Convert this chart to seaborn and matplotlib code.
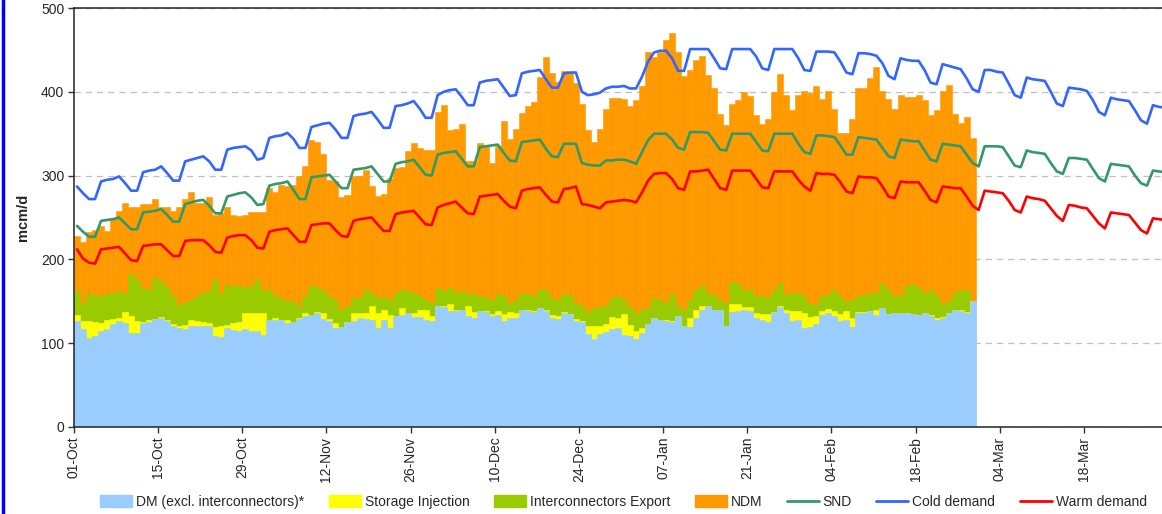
import numpy as np
import pandas as pd
import matplotlib
matplotlib.use("Agg")
import matplotlib.pyplot as plt
from matplotlib.patches import Patch
from matplotlib.lines import Line2D
import seaborn as sns

# x-axis labels, one every 14 days starting 01-Oct
tick_labels = ["01-Oct", "15-Oct", "29-Oct", "12-Nov", "26-Nov", "10-Dec", "24-Dec",
               "07-Jan", "21-Jan", "04-Feb", "18-Feb", "04-Mar", "18-Mar"]

# daily stacked demand (mcm/d), 01-Oct .. 27-Feb
dm = [126, 117, 106, 109, 114, 117, 123, 126, 124, 112, 112, 124, 125, 129, 130, 126, 121, 118, 117, 120,
      120, 120, 121, 109, 107, 118, 116, 115, 117, 114,
      114, 110, 128, 128, 128, 124, 125, 129, 132, 134, 136, 129, 127, 118, 119, 125, 127, 130, 129, 128,
      118, 128, 118, 132, 134, 136, 131, 131, 128, 126,
      144, 143, 139, 139, 140, 132, 130, 138, 137, 132, 134, 127, 130, 130, 140, 139, 137, 142, 138, 130,
      129, 136, 135, 127, 125, 111, 105, 111, 113, 117,
      118, 110, 108, 105, 112, 123, 130, 128, 127, 125, 132, 120, 119, 130, 140, 144, 140, 140, 120, 137,
      138, 140, 139, 130, 128, 125, 137, 143, 136, 127,
      128, 118, 119, 123, 134, 136, 132, 126, 128, 119, 136, 136, 138, 134, 142, 135, 136, 136, 136, 135,
      134, 136, 132, 128, 130, 136, 140, 138, 136, 150]
storage_injection = [8, 9, 20, 16, 10, 11, 6, 4, 13, 21, 14, 1, 3, 0, 1, 2, 2, 2, 5, 8,
                     6, 5, 3, 10, 13, 4, 8, 10, 19, 22,
                     22, 26, 0, 2, 0, 4, 0, 1, 4, 0, 1, 7, 2, 6, 0, 0, 9, 6, 7, 16,
                     18, 12, 16, 0, 8, 0, 5, 9, 12, 6,
                     0, 1, 8, 1, 0, 12, 7, 0, 2, 3, 5, 8, 7, 6, 0, 1, 1, 0, 2, 4,
                     3, 1, 0, 2, 2, 10, 16, 9, 10, 14,
                     12, 25, 14, 9, 6, 0, 0, 0, 1, 1, 0, 0, 11, 10, 4, 0, 0, 0, 0, 10,
                     9, 3, 4, 6, 7, 10, 0, 1, 4, 11,
                     10, 18, 12, 10, 5, 5, 6, 9, 11, 11, 1, 1, 1, 6, 0, 0, 0, 0, 0, 0,
                     0, 0, 2, 2, 1, 0, 0, 2, 1, 0]
interconnectors_export = [28, 22, 33, 32, 32, 31, 31, 32, 23, 50, 50, 41, 36, 49, 43, 39, 33, 26, 27, 23,
                          30, 35, 38, 56, 40, 48, 44, 43, 31, 32,
                          39, 28, 36, 28, 26, 22, 25, 14, 20, 34, 30, 28, 27, 28, 21, 19, 18, 18, 28, 16,
                          18, 15, 18, 28, 22, 26, 24, 16, 12, 16,
                          22, 18, 19, 20, 22, 15, 22, 18, 16, 16, 20, 21, 11, 15, 20, 19, 18, 22, 23, 20,
                          20, 22, 22, 19, 17, 16, 21, 23, 21, 23,
                          25, 16, 21, 22, 22, 19, 24, 24, 20, 33, 12, 20, 22, 24, 24, 16, 18, 12, 28, 26,
                          24, 21, 21, 20, 21, 20, 25, 28, 19, 22,
                          22, 20, 16, 13, 17, 17, 26, 21, 11, 21, 19, 21, 21, 20, 29, 29, 20, 22, 32, 36,
                          32, 24, 29, 26, 16, 14, 20, 24, 25, 0]
ndm = [66, 73, 74, 78, 84, 75, 89, 96, 107, 80, 86, 100, 102, 94, 89, 96, 102, 117, 123, 129,
       111, 107, 112, 78, 95, 93, 85, 84, 86, 88,
       82, 93, 121, 122, 135, 137, 139, 155, 155, 174, 173, 162, 139, 141, 135, 133, 145, 145, 143, 127,
       122, 123, 145, 149, 146, 167, 179, 177, 179, 183,
       210, 222, 189, 196, 200, 159, 158, 183, 182, 164, 176, 209, 196, 205, 215, 224, 232, 254, 278, 269,
       260, 266, 267, 262, 242, 218, 198, 213, 235, 239,
       238, 241, 240, 254, 267, 305, 288, 295, 314, 311, 303, 279, 274, 274, 275, 260, 246, 221, 212, 212,
       219, 236, 231, 216, 206, 213, 238, 249, 237, 218,
       236, 245, 252, 261, 236, 243, 216, 195, 201, 217, 249, 247, 256, 269, 230, 228, 223, 238, 226, 223,
       230, 230, 209, 222, 254, 258, 214, 199, 208, 195]

# daily demand lines (mcm/d), 01-Oct .. 31-Mar
snd = [240, 233, 227, 227,
       246, 247, 248, 250, 243, 236, 236,
       256, 257, 258, 260, 253, 245, 245,
       266, 268, 270, 271, 264, 255, 255,
       275, 277, 279, 280, 274, 265, 266,
       288, 290, 291, 293, 283, 272, 272,
       298, 299, 300, 301, 293, 285, 285,
       307, 308, 309, 311, 302, 293, 293,
       314, 316, 317, 319, 310, 301, 300,
       325, 327, 328, 329, 320, 311, 311,
       334, 335, 336, 337, 327, 318, 317,
       340, 341, 342, 343, 332, 323, 322,
       338, 338, 338, 315, 313, 312, 312,
       318, 318, 319, 319, 317, 314, 328,
       342, 350, 350, 350, 343, 333, 331,
       352, 352, 352, 351, 341, 331, 330,
       350, 350, 350, 350, 340, 330, 329,
       350, 350, 350, 350, 338, 328, 326,
       348, 348, 347, 346, 336, 325, 325,
       346, 345, 344, 343, 333, 323, 321,
       343, 342, 341, 341, 330, 319, 317,
       338, 337, 336, 335, 325, 315, 311,
       335, 335, 335, 334, 323, 312, 310,
       330, 328, 327, 326, 315, 305, 302,
       321, 321, 320, 319, 308, 297, 293,
       314, 313, 312, 311, 300, 291, 288,
       306, 305, 304]
cold_demand = [287, 279, 272, 272,
               293, 295, 296, 299, 291, 282, 282,
               304, 306, 307, 311, 303, 294, 294,
               317, 319, 321, 323, 317, 307, 307,
               331, 333, 334, 335, 330, 319, 321,
               345, 347, 348, 351, 344, 333, 333,
               358, 360, 362, 363, 355, 345, 345,
               371, 373, 374, 376, 367, 357, 357,
               383, 384, 386, 389, 380, 369, 369,
               396, 400, 402, 403, 394, 384, 384,
               411, 413, 414, 415, 405, 395, 396,
               422, 424, 425, 426, 415, 405, 405,
               422, 423, 423, 400, 396, 397, 399,
               404, 406, 406, 407, 404, 404, 418,
               436, 447, 449, 449, 440, 425, 425,
               451, 451, 451, 451, 440, 428, 427,
               451, 451, 451, 451, 442, 428, 426,
               451, 451, 451, 451, 440, 426, 425,
               448, 448, 448, 447, 436, 423, 421,
               446, 446, 445, 443, 434, 419, 415,
               440, 438, 437, 437, 426, 411, 409,
               433, 431, 429, 427, 416, 403, 400,
               426, 426, 424, 423, 410, 396, 393,
               417, 415, 414, 413, 400, 386, 383,
               405, 404, 403, 401, 390, 376, 372,
               393, 391, 390, 389, 378, 366, 362,
               384, 382, 381]
warm_demand = [212, 201, 196, 195,
               212, 213, 214, 215, 207, 199, 198,
               216, 217, 218, 218, 211, 204, 204,
               222, 223, 223, 223, 217, 209, 208,
               226, 228, 229, 229, 223, 214, 213,
               233, 235, 236, 237, 229, 221, 221,
               241, 242, 243, 243, 235, 228, 227,
               246, 248, 249, 250, 242, 234, 234,
               254, 256, 257, 258, 250, 242, 241,
               262, 265, 267, 269, 262, 255, 254,
               275, 276, 277, 278, 270, 263, 261,
               282, 284, 285, 286, 277, 269, 268,
               284, 285, 287, 266, 265, 263, 261,
               268, 269, 270, 271, 270, 268, 280,
               294, 302, 303, 303, 296, 285, 283,
               305, 305, 306, 307, 296, 285, 283,
               306, 306, 306, 306, 296, 286, 285,
               305, 305, 305, 305, 295, 287, 282,
               303, 302, 302, 301, 292, 281, 279,
               299, 298, 298, 297, 287, 275, 273,
               293, 292, 292, 292, 282, 271, 268,
               287, 286, 285, 285, 275, 264, 259,
               282, 281, 280, 279, 270, 259, 256,
               275, 273, 272, 270, 261, 252, 246,
               265, 264, 262, 261, 252, 243, 237,
               256, 255, 254, 253, 244, 235, 231,
               249, 248, 247]

if __name__ == '__main__':
    sns.set_style("ticks")
    plt.rcParams["font.family"] = ["Liberation Sans", "DejaVu Sans"]
    plt.rcParams["font.size"] = 10

    bars = pd.DataFrame({"day": np.arange(len(dm)) + 0.5, "DM": dm, "SI": storage_injection,
                         "IE": interconnectors_export, "NDM": ndm})
    bars["top_si"] = bars["DM"] + bars["SI"]
    bars["top_ie"] = bars["top_si"] + bars["IE"]
    bars["total"] = bars["top_ie"] + bars["NDM"]

    n_days = len(snd)
    lines = pd.DataFrame({"day": np.arange(n_days) + 0.5, "SND": snd,
                          "Cold demand": cold_demand, "Warm demand": warm_demand})

    fig = plt.figure(figsize=(11.62, 5.14), dpi=100)
    # plot area runs slightly past the right edge of the picture (as in the original export)
    ax = fig.add_axes([74 / 1162, 1 - 427 / 514, (1168 - 74) / 1162, 419 / 514])

    # stacked bars drawn as overlapping cumulative totals, tallest first
    bar_colors = {"total": "#FF9900", "top_ie": "#99CC00", "top_si": "#FFFF00", "DM": "#99CCFF"}
    for col, color in bar_colors.items():
        sns.barplot(data=bars, x="day", y=col, native_scale=True, width=1, color=color,
                    saturation=1, errorbar=None, edgecolor=color, linewidth=0.4, ax=ax)

    line_colors = {"SND": "#339966", "Cold demand": "#3366FF", "Warm demand": "#FF0000"}
    for col, color in line_colors.items():
        sns.lineplot(data=lines, x="day", y=col, color=color, linewidth=1.9,
                     errorbar=None, legend=False, ax=ax)

    ax.set_xlim(0, n_days)
    ax.set_ylim(0, 500)
    ax.set_xticks(np.arange(0, n_days, 14))
    ax.set_xticklabels(tick_labels, rotation=90)
    ax.set_yticks(range(0, 501, 100))
    ax.tick_params(axis="both", length=4, width=1, color="#333333", labelsize=10, pad=3)
    ax.set_xlabel("")
    ax.set_ylabel("mcm/d", fontweight="bold", fontsize=10.5)
    ax.yaxis.set_label_coords(-0.040, 0.5)

    ax.yaxis.grid(True, color="#BFBFBF", linestyle=(0, (5, 4)), linewidth=0.9)
    ax.set_axisbelow(True)
    for side in ["left", "bottom", "top"]:
        ax.spines[side].set_color("#222222")
        ax.spines[side].set_linewidth(1.1)
    ax.spines["right"].set_visible(False)

    handles = [Patch(color="#99CCFF"), Patch(color="#FFFF00"), Patch(color="#99CC00"), Patch(color="#FF9900"),
               Line2D([], [], color="#339966", lw=2), Line2D([], [], color="#3366FF", lw=2),
               Line2D([], [], color="#FF0000", lw=2)]
    labels = ["DM (excl. interconnectors)*", "Storage Injection", "Interconnectors Export", "NDM",
              "SND", "Cold demand", "Warm demand"]
    fig.legend(handles, labels, loc="center", bbox_to_anchor=(0.5366, 12 / 514), ncol=7, frameon=False,
               handlelength=2.3, handleheight=0.9, columnspacing=1.75, handletextpad=0.3, fontsize=10)

    # blue frame on the left edge
    fig.add_artist(Line2D([0.0025, 0.0025], [0, 1], color="#0000FF", lw=2.5, transform=fig.transFigure))

    fig.savefig("out.png", dpi=100)
